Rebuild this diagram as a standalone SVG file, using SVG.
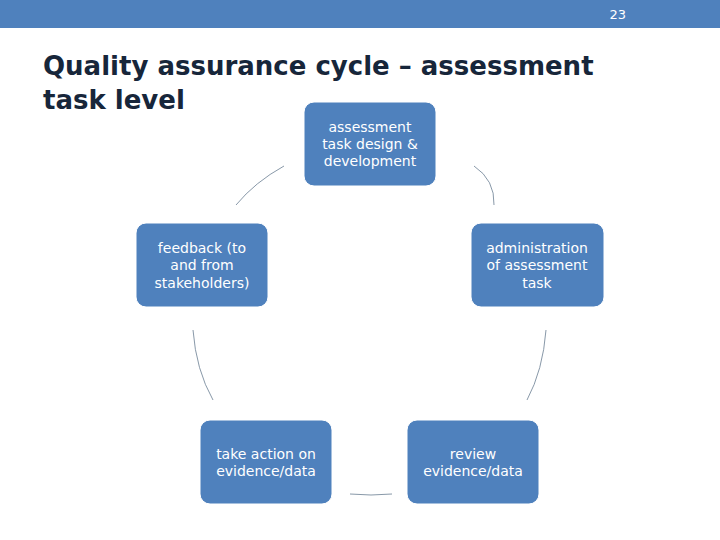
<svg xmlns="http://www.w3.org/2000/svg" width="720" height="540" viewBox="0 0 720 540">
<style>
.n{fill:#4f81bd;stroke:#fff;stroke-width:1}
.t{font-family:"DejaVu Sans",sans-serif;font-size:14px;fill:#fff;text-anchor:middle}
.c{fill:none;stroke:#6a7d92;stroke-width:0.8}
</style>
<rect x="0" y="0" width="720" height="28" fill="#4f81bd"/>
<text x="626" y="19" font-family="DejaVu Sans,sans-serif" font-size="13" fill="#fff" text-anchor="end">23</text>
<text font-family="DejaVu Sans,sans-serif" font-weight="bold" font-size="26" fill="#17263a"><tspan x="43" y="75">Quality assurance cycle – assessment</tspan><tspan x="43" y="109">task level</tspan></text>
<g id="connectors">
<path class="c" d="M284,166 Q255,182 236,205"/>
<path class="c" d="M484,166 Q505,180 504,205" transform="translate(-10,0)"/>
<path class="c" d="M193,330 Q196,370 213,400"/>
<path class="c" d="M546,330 Q543,370 527,400"/>
<path class="c" d="M350,494 Q371,496 392,494"/>
</g>
<g id="n1"><rect class="n" x="304" y="102" width="132" height="84" rx="10"/><text class="t"><tspan x="370" y="132">assessment</tspan><tspan x="370" y="149">task design &amp;</tspan><tspan x="370" y="166">development</tspan></text></g>
<g id="n2"><rect class="n" x="471" y="223" width="133" height="84" rx="10"/><text class="t"><tspan x="537" y="253">administration</tspan><tspan x="537" y="270">of assessment</tspan><tspan x="537" y="288">task</tspan></text></g>
<g id="n3"><rect class="n" x="407" y="420" width="132" height="84" rx="10"/><text class="t"><tspan x="473" y="459">review</tspan><tspan x="473" y="476">evidence/data</tspan></text></g>
<g id="n4"><rect class="n" x="200" y="420" width="132" height="84" rx="10"/><text class="t"><tspan x="266" y="459">take action on</tspan><tspan x="266" y="476">evidence/data</tspan></text></g>
<g id="n5"><rect class="n" x="136" y="223" width="132" height="84" rx="10"/><text class="t"><tspan x="202" y="253">feedback (to</tspan><tspan x="202" y="270">and from</tspan><tspan x="202" y="288">stakeholders)</tspan></text></g>
</svg>
